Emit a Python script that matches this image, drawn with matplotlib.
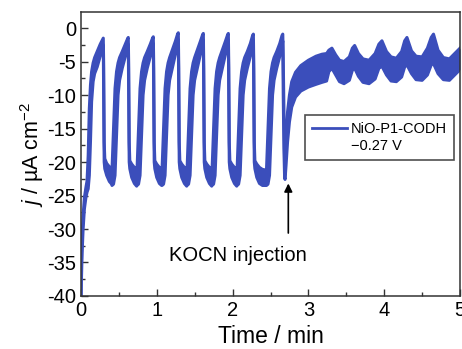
import matplotlib
matplotlib.use("Agg")
import matplotlib.pyplot as plt
from matplotlib.lines import Line2D
from matplotlib.ticker import MultipleLocator

plt.rcParams["font.family"] = ["Liberation Sans", "DejaVu Sans"]
plt.rcParams["mathtext.fontset"] = "custom"
plt.rcParams["mathtext.rm"] = "Liberation Sans"
plt.rcParams["mathtext.it"] = "Liberation Sans:italic"
plt.rcParams["axes.unicode_minus"] = False

# Chronoamperometry trace: time (min) with the lower and upper edge of the noisy current band (uA cm^-2)
time = [
    0.000, 0.006, 0.015, 0.028, 0.045, 0.065, 0.080,
    0.095, 0.110, 0.125, 0.140, 0.160, 0.180, 0.214, 0.254, 0.284, 0.294,
    0.300, 0.306, 0.314, 0.339, 0.374, 0.404,
    0.409, 0.429, 0.449, 0.469, 0.489, 0.509, 0.544, 0.584, 0.614, 0.624, 0.630, 0.636, 0.644, 0.669, 0.704, 0.734,
    0.739, 0.759, 0.779, 0.799, 0.819, 0.839, 0.874, 0.914, 0.944, 0.954, 0.960, 0.966, 0.974, 0.999, 1.034, 1.064,
    1.069, 1.089, 1.109, 1.129, 1.149, 1.169, 1.204, 1.244, 1.274, 1.284, 1.290, 1.296, 1.304, 1.329, 1.364, 1.394,
    1.399, 1.419, 1.439, 1.459, 1.479, 1.499, 1.534, 1.574, 1.604, 1.614, 1.620, 1.626, 1.634, 1.659, 1.694, 1.724,
    1.729, 1.749, 1.769, 1.789, 1.809, 1.829, 1.864, 1.904, 1.934, 1.944, 1.950, 1.956, 1.964, 1.989, 2.024, 2.054,
    2.059, 2.079, 2.099, 2.119, 2.139, 2.159, 2.194, 2.234, 2.264, 2.274, 2.280, 2.286, 2.294, 2.319, 2.354, 2.394, 2.439,
    2.447, 2.467, 2.487, 2.507, 2.527, 2.547, 2.582, 2.622, 2.652, 2.662, 2.668, 2.677, 2.686, 2.692,
    2.705, 2.725, 2.750, 2.780, 2.830, 2.900, 3.000, 3.100, 3.180, 3.240,
    3.270, 3.310, 3.360, 3.410, 3.470, 3.540, 3.580, 3.610,
    3.660, 3.720, 3.800, 3.880, 3.930, 3.970,
    4.030, 4.090, 4.160, 4.230, 4.270, 4.300,
    4.360, 4.420, 4.500, 4.570, 4.620, 4.650,
    4.710, 4.780, 4.860, 4.930, 5.000,
]
j_low = [
    -41.0, -37.5, -33.5, -30.0, -27.0, -25.3, -24.5,
    -24.0, -22.0, -17.0, -11.0, -8.0, -6.8, -5.8, -4.2, -3.0, -2.5,
    -12.0, -20.0, -21.0, -22.0, -22.9, -23.3,
    -23.5, -23.3, -22.0, -16.0, -10.0, -7.8, -6.0, -4.3, -3.0, -2.4, -12.0, -20.0, -21.0, -22.3, -23.2, -23.6,
    -23.5, -23.3, -22.0, -16.0, -10.0, -7.8, -6.0, -4.3, -3.0, -2.3, -12.0, -20.0, -21.0, -22.3, -23.2, -23.5,
    -23.5, -23.3, -22.0, -16.0, -10.0, -7.8, -6.0, -4.0, -2.7, -1.7, -12.0, -20.0, -21.0, -22.3, -23.2, -23.6,
    -23.5, -23.3, -22.0, -16.0, -10.0, -7.8, -6.0, -4.0, -2.7, -1.8, -12.0, -20.0, -21.0, -22.3, -23.2, -23.6,
    -23.5, -23.3, -22.0, -16.0, -10.0, -7.8, -6.0, -4.0, -2.7, -1.8, -12.0, -20.0, -21.0, -22.3, -23.2, -23.6,
    -23.5, -23.3, -22.0, -16.0, -10.0, -7.8, -6.0, -4.2, -2.9, -1.9, -12.0, -20.0, -21.0, -22.3, -23.2, -23.5, -23.5,
    -23.5, -23.3, -22.0, -16.0, -10.0, -7.8, -6.0, -4.2, -2.9, -1.9, -10.0, -18.0, -22.3, -22.6,
    -20.5, -17.0, -14.0, -11.8, -10.3, -9.4, -8.8, -8.4, -8.1, -7.9,
    -6.5, -6.0, -7.0, -8.0, -8.3, -7.8, -6.3, -6.0,
    -7.2, -8.1, -8.3, -7.6, -6.0, -5.7,
    -7.0, -7.9, -8.0, -7.3, -5.8, -5.5,
    -6.8, -7.7, -7.8, -7.0, -5.5, -5.3,
    -6.8, -7.7, -7.8, -7.0, -6.2,
]
j_high = [
    -40.0, -35.0, -31.0, -28.0, -25.3, -23.8, -22.8,
    -19.0, -12.0, -8.5, -6.5, -5.2, -4.4, -3.5, -2.4, -1.7, -1.5,
    -6.0, -17.0, -19.5, -20.2, -20.7, -21.0,
    -21.2, -15.0, -9.0, -6.5, -5.2, -4.4, -3.5, -2.4, -1.6, -1.4, -6.0, -17.0, -19.8, -20.3, -20.8, -21.1,
    -21.2, -15.0, -9.0, -6.5, -5.2, -4.4, -3.5, -2.4, -1.5, -1.3, -6.0, -17.0, -19.8, -20.3, -20.8, -21.1,
    -21.2, -15.0, -9.0, -6.5, -5.2, -4.4, -3.3, -2.0, -0.9, -0.7, -6.0, -17.0, -19.8, -20.3, -20.8, -21.1,
    -21.2, -15.0, -9.0, -6.5, -5.2, -4.4, -3.3, -2.0, -1.0, -0.8, -6.0, -17.0, -19.8, -20.3, -20.8, -21.1,
    -21.2, -15.0, -9.0, -6.5, -5.2, -4.4, -3.3, -2.0, -1.0, -0.8, -6.0, -17.0, -19.8, -20.3, -20.8, -21.1,
    -21.2, -15.0, -9.0, -6.5, -5.2, -4.4, -3.5, -2.3, -1.1, -0.9, -6.0, -17.0, -19.8, -20.3, -20.8, -21.1, -21.2,
    -21.2, -15.0, -9.0, -6.5, -5.2, -4.4, -3.5, -2.3, -1.1, -0.9, -4.5, -12.0, -20.0, -21.8,
    -16.5, -12.5, -10.0, -8.0, -6.6, -5.6, -4.8, -4.2, -3.9, -3.8,
    -3.3, -3.0, -4.0, -4.8, -5.0, -4.3, -3.0, -2.6,
    -3.8, -4.6, -4.8, -3.8, -2.4, -1.9,
    -3.5, -4.3, -4.5, -3.5, -1.9, -1.4,
    -3.4, -4.2, -4.3, -3.0, -1.4, -0.9,
    -3.3, -4.4, -4.6, -3.8, -3.0,
]

x_ticks = [0, 1, 2, 3, 4, 5]
y_ticks = [-40, -35, -30, -25, -20, -15, -10, -5, 0]
series_label = "NiO-P1-CODH"
potential_label = "\u22120.27 V"
injection_label = "KOCN injection"
injection_time = 2.735
injection_tip = -23.2
injection_tail = -30.6

trace_color = "#3B4EBB"

fig = plt.figure(figsize=(4.62, 3.49), dpi=100)
ax = fig.add_axes([0.1753, 0.1519, 0.8204, 0.8137])

ax.fill_between(time, j_low, j_high, color=trace_color, lw=0)
ax.plot(time, j_low, color=trace_color, lw=2.2, solid_joinstyle="round")
ax.plot(time, j_high, color=trace_color, lw=2.2, solid_joinstyle="round")

ax.set_xlim(0, 5)
ax.set_ylim(-40, 2.4)
ax.set_xticks(x_ticks)
ax.set_xticklabels([str(v) for v in x_ticks])
ax.set_yticks(y_ticks)
ax.set_yticklabels([str(v) for v in y_ticks])
ax.xaxis.set_minor_locator(MultipleLocator(0.5))
ax.yaxis.set_minor_locator(MultipleLocator(2.5))
ax.tick_params(which="both", direction="in", top=False, right=False,
               width=1.0, color="#333333", labelsize=14.5)
ax.tick_params(which="major", length=5, pad=3.5)
ax.tick_params(which="minor", length=3)
for sp in ax.spines.values():
    sp.set_linewidth(1.1)
    sp.set_color("#333333")

ax.set_xlabel("Time / min", fontsize=16.5, labelpad=4)
ax.set_ylabel("$j$ / µA cm$^{-2}$", fontsize=15.5, labelpad=1)

ax.annotate("", xy=(injection_time, injection_tip), xytext=(injection_time, injection_tail),
            arrowprops=dict(arrowstyle="-|>", color="black", lw=1.2, mutation_scale=12,
                            shrinkA=0, shrinkB=0))
ax.text(2.07, -33.9, injection_label, ha="center", va="center", fontsize=14.5)

handles = [Line2D([], [], color=trace_color, lw=2.0), Line2D([], [], color="none")]
leg = ax.legend(handles, [series_label, potential_label], loc="upper left",
                bbox_to_anchor=(0.591, 0.637), fontsize=10.5, frameon=True, fancybox=False,
                edgecolor="#222222", handlelength=2.4, handletextpad=0.3,
                labelspacing=0.25, borderpad=0.45, borderaxespad=0)
leg.get_frame().set_linewidth(1.2)

fig.savefig("out.png", dpi=100)
